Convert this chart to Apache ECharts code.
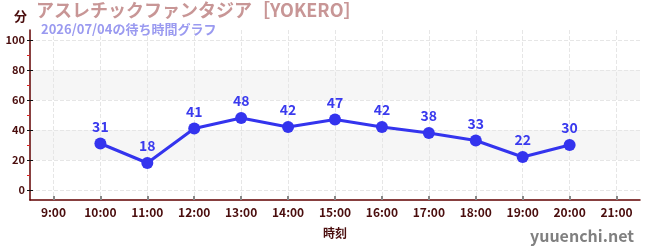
<!DOCTYPE html>
<html>
<head>
<meta charset="utf-8">
<script src="https://cdn.jsdelivr.net/npm/echarts@6/dist/echarts.min.js"></script>
<style>
  html, body { margin: 0; padding: 0; background: #fff; }
  #chart { width: 650px; height: 250px; }
</style>
</head>
<body>
<div id="chart"></div>
<script>
var hours = ['9:00', '10:00', '11:00', '12:00', '13:00', '14:00', '15:00', '16:00', '17:00', '18:00', '19:00', '20:00', '21:00'];
var waits = [null, 31, 18, 41, 48, 42, 47, 42, 38, 33, 22, 30, null];
var majorTicks = [0, 20, 40, 60, 80, 100];
var minorTicks = [10, 30, 50, 70, 90];

var font = '"Noto Sans CJK JP", "Noto Sans", sans-serif';
var dark = '#4a0d0d';
var yMin = -6.67, yMax = 106.67;
// positions of the hour ticks on the helper value axis (category centres)
var hourIdx = hours.map(function (h, i) { return i; });

var chart = echarts.init(document.getElementById('chart'));

chart.setOption({
  animation: false,
  textStyle: { fontFamily: font },
  title: [{
    text: 'アスレチックファンタジア［YOKERO］',
    left: 36, top: 1, padding: 0,
    textStyle: { color: '#c89696', fontSize: 18, fontWeight: 'bold', fontFamily: font }
  }, {
    text: '2026/07/04の待ち時間グラフ',
    left: 41, top: 23, padding: 0,
    textStyle: { color: '#9a9af0', fontSize: 13, fontWeight: 'bold', fontFamily: font }
  }, {
    text: '分',
    left: 14, top: 10, padding: 0,
    textStyle: { color: dark, fontSize: 13, fontWeight: 'bold', fontFamily: font }
  }, {
    text: 'yuuenchi.net',
    right: 16, bottom: 6, padding: 0,
    textStyle: { color: '#808080', fontSize: 16, fontWeight: 'bold', fontFamily: font }
  }],
  grid: { left: 30, right: 10, top: 30, bottom: 50, containLabel: false },
  xAxis: [{
    type: 'category',
    data: hours,
    boundaryGap: true,
    name: '時刻',
    nameLocation: 'middle',
    nameGap: 27,
    nameTextStyle: { color: dark, fontSize: 12, fontWeight: 'bold', fontFamily: font },
    axisLine: { onZero: false, lineStyle: { color: '#600000', width: 1.5 } },
    axisTick: { show: false },
    axisLabel: { color: dark, fontSize: 12, fontWeight: 'bold', margin: 6, fontFamily: font },
    splitLine: { show: false }
  }, {
    type: 'value',
    position: 'bottom',
    min: -0.5, max: hours.length - 0.5,
    axisLine: { show: false, onZero: false },
    axisTick: { show: true, inside: true, length: 4, customValues: hourIdx, lineStyle: { color: '#888', width: 2 } },
    axisLabel: { show: false },
    splitLine: { show: true, lineStyle: { color: '#e6e6e6', type: 'dashed' } }
  }],
  yAxis: [{
    type: 'value',
    min: yMin, max: yMax,
    position: 'left',
    axisLine: { show: true, onZero: false, lineStyle: { color: '#600000', width: 1.5 } },
    axisTick: { show: true, length: 3, customValues: majorTicks, lineStyle: { color: '#111' } },
    axisLabel: { color: dark, fontSize: 11, fontWeight: 'bold', margin: 5, customValues: majorTicks, fontFamily: font },
    splitLine: { show: true, lineStyle: { color: '#e6e6e6', type: 'dashed' } },
    splitArea: { show: true, areaStyle: { color: ['rgba(0,0,0,0)', '#f6f6f6'] } }
  }, {
    type: 'value',
    min: yMin, max: yMax,
    position: 'left',
    axisLine: { show: false, onZero: false },
    axisTick: { show: true, inside: true, length: 3, customValues: majorTicks, lineStyle: { color: '#111' } },
    axisLabel: { show: false },
    splitLine: { show: false }
  }, {
    type: 'value',
    min: yMin, max: yMax,
    position: 'left',
    axisLine: { show: false, onZero: false },
    axisTick: { show: true, length: 3, customValues: minorTicks, lineStyle: { color: '#dd2020' } },
    axisLabel: { show: false },
    splitLine: { show: false }
  }],
  series: [{
    type: 'line',
    data: waits,
    xAxisIndex: 0,
    yAxisIndex: 0,
    connectNulls: false,
    symbol: 'circle',
    symbolSize: 12,
    lineStyle: { color: '#3434ee', width: 3 },
    itemStyle: { color: '#3434ee' },
    label: {
      show: true,
      position: 'top',
      distance: 4,
      color: '#3a3aee',
      fontSize: 14,
      fontWeight: 'bold',
      fontFamily: font
    }
  }]
});
</script>
</body>
</html>
